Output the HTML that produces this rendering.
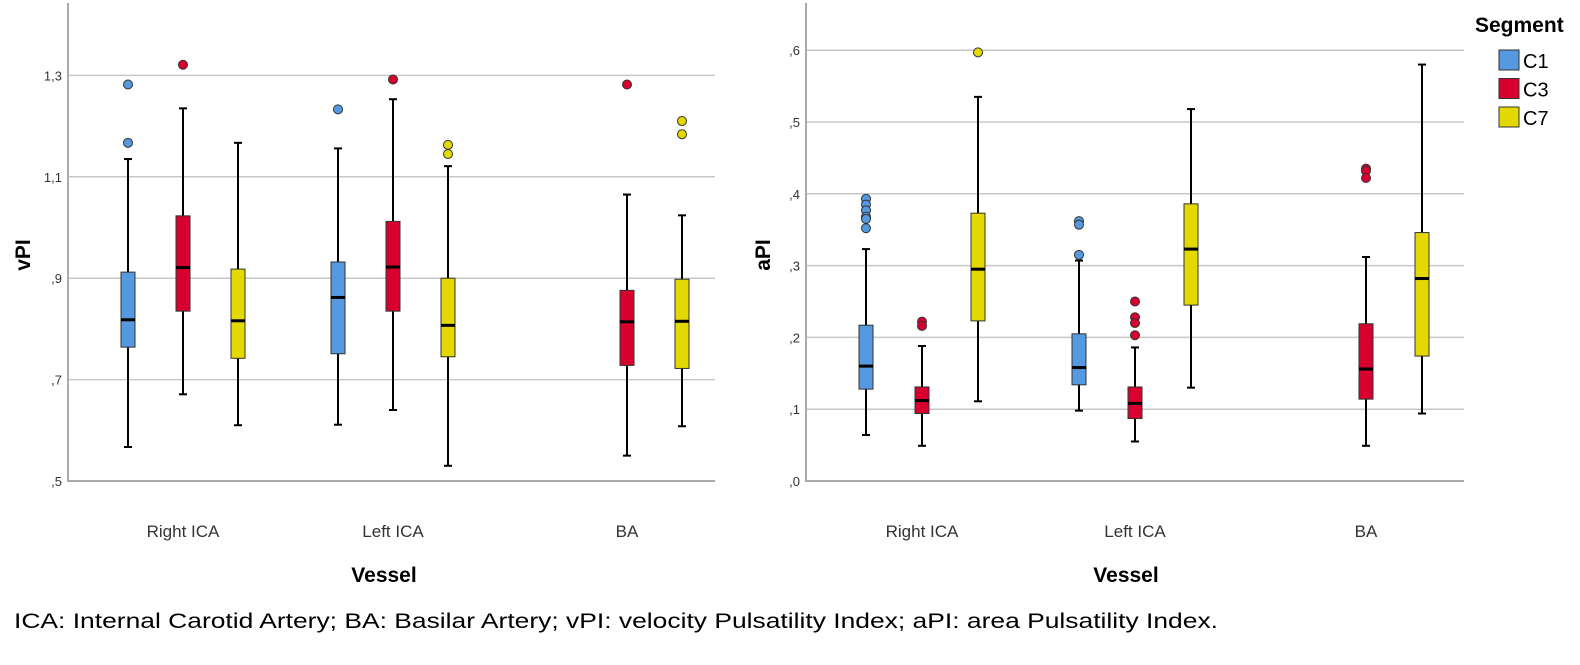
<!DOCTYPE html>
<html><head><meta charset="utf-8"><style>
body{margin:0;background:#fff;width:1580px;height:660px;overflow:hidden;font-family:"Liberation Sans",sans-serif}
</style></head><body>
<svg id="svg" width="1580" height="660" xmlns="http://www.w3.org/2000/svg" font-family="Liberation Sans, sans-serif"></svg>
<script>
const categories = ["Right ICA","Left ICA","BA"];
const segments = ["C1","C3","C7"];
const colors = ["#5599e0","#d8002f","#e3d800"];
// [min,q1,median,q3,max] per category per segment; null = absent
const vpiBoxes = [
 [[0.567,0.764,0.818,0.912,1.135],[0.671,0.835,0.921,1.023,1.235],[0.61,0.742,0.816,0.918,1.167]],
 [[0.611,0.751,0.862,0.932,1.156],[0.64,0.835,0.922,1.012,1.253],[0.53,0.745,0.807,0.9,1.121]],
 [null,[0.55,0.728,0.814,0.876,1.065],[0.608,0.722,0.815,0.898,1.024]]
];
const vpiOutliers = [
 [[1.282,1.167],[1.321],[]],
 [[1.233],[1.292],[1.163,1.145]],
 [[],[1.282],[1.21,1.184]]
];
const vpiTicks = [0.5,0.7,0.9,1.1,1.3];
const vpiTickLabels = [",5",",7",",9","1,1","1,3"];
const apiBoxes = [
 [[0.064,0.128,0.16,0.217,0.323],[0.049,0.094,0.112,0.131,0.188],[0.111,0.223,0.295,0.373,0.535]],
 [[0.098,0.134,0.158,0.205,0.307],[0.055,0.087,0.108,0.131,0.186],[0.13,0.245,0.323,0.386,0.518]],
 [null,[0.049,0.114,0.156,0.219,0.312],[0.094,0.174,0.282,0.346,0.58]]
];
const apiOutliers = [
 [[0.393,0.385,0.377,0.368,0.365,0.352],[0.222,0.216],[0.597]],
 [[0.362,0.357,0.315],[0.25,0.228,0.22,0.203],[]],
 [[],[0.435,0.432,0.422],[]]
];
const apiTicks = [0,0.1,0.2,0.3,0.4,0.5,0.6];
const apiTickLabels = [",0",",1",",2",",3",",4",",5",",6"];

const svg=document.getElementById('svg');
const NS="http://www.w3.org/2000/svg";
function mk(tag,attrs,parent,text){const e=document.createElementNS(NS,tag);for(const k in attrs)e.setAttribute(k,attrs[k]);if(text!==undefined)e.textContent=text;(parent||svg).appendChild(e);return e;}

function chart(opt){
  const g=mk('g',{});
  
  
  const y=v=>opt.bottom-(v-opt.vmin)*opt.scale;
  const x=(ci,si)=>opt.catX[ci]+(si-1)*opt.gap;
  opt.ticks.forEach((t,i)=>{
    if(i>0){const l=mk('line',{x1:opt.left,x2:opt.right,y1:y(t),y2:y(t),stroke:'#c8c8c8','stroke-width':1.5},g);
      }
    const tx=mk('text',{x:opt.left-6,y:y(t)+5,'text-anchor':'end','font-size':13,fill:'#333'},g,opt.tickLabels[i]);
    
  });
  const ax=mk('path',{d:`M${opt.left},3 V${opt.bottom} H${opt.right}`,fill:'none',stroke:'#aaa','stroke-width':2},g);
  
  categories.forEach((c,ci)=>{
    const t=mk('text',{x:opt.catX[ci],y:537,'text-anchor':'middle','font-size':17,fill:'#333'},g,c);
    
    segments.forEach((s,si)=>{
      const b=opt.boxes[ci][si];const cx=x(ci,si);const w=14;
      if(b){
        const bg=mk('g',{},g);
        
        
        mk('line',{x1:cx,x2:cx,y1:y(b[4]),y2:y(b[0]),stroke:'#000','stroke-width':2},bg);
        mk('line',{x1:cx-4,x2:cx+4,y1:y(b[4]),y2:y(b[4]),stroke:'#000','stroke-width':2},bg);
        mk('line',{x1:cx-4,x2:cx+4,y1:y(b[0]),y2:y(b[0]),stroke:'#000','stroke-width':2},bg);
        mk('rect',{x:cx-w/2,y:y(b[3]),width:w,height:y(b[1])-y(b[3]),fill:colors[si],stroke:'#333','stroke-width':1},bg);
        mk('line',{x1:cx-w/2,x2:cx+w/2,y1:y(b[2]),y2:y(b[2]),stroke:'#000','stroke-width':3},bg);
      }
      opt.outliers[ci][si].forEach(v=>{
        const o=mk('circle',{cx:cx,cy:y(v),r:4.5,fill:colors[si],stroke:'#333','stroke-width':1},g);
        
      });
    });
  });
  const xt=mk('text',{x:opt.titleX,y:582,'text-anchor':'middle','font-size':21,'font-weight':'bold',fill:'#000'},g,'Vessel');
  
  const yt=mk('text',{x:0,y:0,'text-anchor':'middle','font-size':21,'font-weight':'bold',fill:'#000',transform:`translate(${opt.ytX},255) rotate(-90)`},g,opt.ytitle);
  
}
chart({name:'vpi-chart',left:68,right:715,bottom:481,vmin:0.5,scale:507,catX:[183,393,627],gap:55,
  ticks:vpiTicks,tickLabels:vpiTickLabels,boxes:vpiBoxes,outliers:vpiOutliers,titleX:384,ytX:30,ytitle:'vPI'});
chart({name:'api-chart',left:806,right:1464,bottom:481,vmin:0,scale:718,catX:[922,1135,1366],gap:56,
  ticks:apiTicks,tickLabels:apiTickLabels,boxes:apiBoxes,outliers:apiOutliers,titleX:1126,ytX:770,ytitle:'aPI'});

const lg=mk('g',{});


mk('text',{x:1475,y:32,'font-size':21,'font-weight':'bold'},lg,'Segment');
segments.forEach((s,i)=>{
  const e=mk('g',{},lg);
  
  
  mk('rect',{x:1499,y:50+i*28.5,width:20,height:20,fill:colors[i],stroke:'#333','stroke-width':1},e);
  mk('text',{x:1523,y:68+i*28.5,'font-size':20},e,s);
});
const cap=mk('text',{x:14,y:628,'font-size':21,fill:'#000',textLength:1204,lengthAdjust:'spacingAndGlyphs'},svg,'ICA: Internal Carotid Artery; BA: Basilar Artery; vPI: velocity Pulsatility Index; aPI: area Pulsatility Index.');


</script>
</body></html>
